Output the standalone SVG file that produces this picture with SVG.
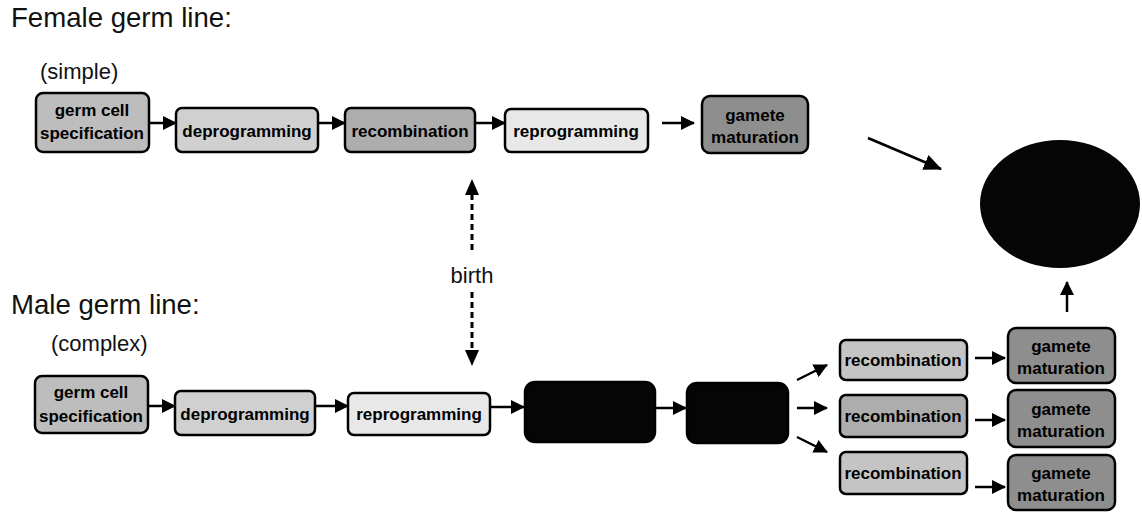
<svg xmlns="http://www.w3.org/2000/svg" width="1142" height="512" viewBox="0 0 1142 512">
  <style>
    .title { font-family: "Liberation Sans", Arial, sans-serif; font-size: 27.6px; fill: #111; }
    .sub { font-family: "Liberation Sans", Arial, sans-serif; font-size: 22px; fill: #111; }
    .lbl { font-family: "Liberation Sans", Arial, sans-serif; font-size: 17px; font-weight: bold; fill: #000; text-anchor: middle; }
    .box { stroke: #000; stroke-width: 2.5; }
    .conn { stroke: #000; stroke-width: 2.5; fill: none; }
    .dash { stroke: #000; stroke-width: 3; fill: none; stroke-dasharray: 6 4; }
    .spec { fill: #bdbdbd; }
    .deprog { fill: #d0d0d0; }
    .recomb { fill: #adadad; }
    .recomb-l { fill: #c4c4c4; }
    .reprog { fill: #e8e8e8; }
    .gamete { fill: #8e8e8e; }
    .dark { fill: #050505; }
  </style>
  <defs>
    <marker id="head" markerUnits="userSpaceOnUse" markerWidth="14" markerHeight="14" refX="13" refY="7" orient="auto">
      <path d="M0,0 L14,7 L0,14 z" fill="#000"/>
    </marker>
    <marker id="head-big" markerUnits="userSpaceOnUse" markerWidth="18" markerHeight="16" refX="17" refY="8" orient="auto">
      <path d="M0,0 L18,8 L0,16 z" fill="#000"/>
    </marker>
  </defs>

  <!-- headings -->
  <text class="title" x="11" y="27">Female germ line:</text>
  <text class="sub" x="40" y="79">(simple)</text>
  <text class="title" x="11" y="314">Male germ line:</text>
  <text class="sub" x="51" y="351">(complex)</text>

  <!-- connectors -->
  <g id="connectors">
    <!-- female row -->
    <line class="conn" x1="149" y1="123" x2="176" y2="123" marker-end="url(#head)"/>
    <line class="conn" x1="318" y1="123" x2="345" y2="123" marker-end="url(#head)"/>
    <line class="conn" x1="475" y1="123" x2="505" y2="123" marker-end="url(#head)"/>
    <line class="conn" x1="662" y1="123" x2="694" y2="123" marker-end="url(#head)"/>
    <line class="conn" x1="868" y1="138" x2="941" y2="169" marker-end="url(#head-big)"/>
    <!-- birth -->
    <line class="dash" x1="472" y1="250" x2="472" y2="192"/>
    <path d="M465,195 L472,179 L479,195 z" fill="#000"/>
    <line class="dash" x1="472" y1="292" x2="472" y2="352"/>
    <path d="M465,350 L472,366 L479,350 z" fill="#000"/>
    <!-- male row -->
    <line class="conn" x1="148" y1="406" x2="175" y2="406" marker-end="url(#head)"/>
    <line class="conn" x1="315" y1="406" x2="348" y2="406" marker-end="url(#head)"/>
    <line class="conn" x1="491" y1="407" x2="524" y2="407" marker-end="url(#head)"/>
    <line class="conn" x1="655" y1="408" x2="686" y2="408" marker-end="url(#head)"/>
    <line class="conn" x1="797" y1="380" x2="827" y2="365" marker-end="url(#head)"/>
    <line class="conn" x1="797" y1="408" x2="827" y2="408" marker-end="url(#head)"/>
    <line class="conn" x1="797" y1="437" x2="827" y2="452" marker-end="url(#head)"/>
    <line class="conn" x1="975" y1="358" x2="1005" y2="358" marker-end="url(#head)"/>
    <line class="conn" x1="975" y1="420" x2="1005" y2="420" marker-end="url(#head)"/>
    <line class="conn" x1="975" y1="487" x2="1005" y2="487" marker-end="url(#head)"/>
    <line class="conn" x1="1067" y1="312" x2="1067" y2="282" marker-end="url(#head)"/>
  </g>

  <!-- female germ line -->
  <g id="f-spec">
    <rect class="box spec" x="36" y="93" width="113" height="59" rx="7"/>
    <text class="lbl" x="92" y="116">germ cell</text>
    <text class="lbl" x="92" y="139">specification</text>
  </g>
  <g id="f-deprog">
    <rect class="box deprog" x="176" y="108" width="142" height="44" rx="6"/>
    <text class="lbl" x="247" y="137">deprogramming</text>
  </g>
  <g id="f-recomb">
    <rect class="box recomb" x="345" y="108" width="130" height="44" rx="6"/>
    <text class="lbl" x="410" y="137">recombination</text>
  </g>
  <g id="f-reprog">
    <rect class="box reprog" x="505" y="109" width="143" height="43" rx="6"/>
    <text class="lbl" x="576" y="137">reprogramming</text>
  </g>
  <g id="f-gamete">
    <rect class="box gamete" x="702" y="96" width="106" height="57" rx="8"/>
    <text class="lbl" x="755" y="121">gamete</text>
    <text class="lbl" x="755" y="143">maturation</text>
  </g>

  <!-- zygote -->
  <g id="zygote">
    <ellipse class="dark" cx="1060" cy="204" rx="80" ry="64"/>
  </g>

  <!-- birth label -->
  <g id="birth">
    <text class="sub" x="472" y="283" text-anchor="middle">birth</text>
  </g>

  <!-- male germ line -->
  <g id="m-spec">
    <rect class="box spec" x="35" y="376" width="113" height="57" rx="7"/>
    <text class="lbl" x="91" y="398">germ cell</text>
    <text class="lbl" x="91" y="422">specification</text>
  </g>
  <g id="m-deprog">
    <rect class="box deprog" x="175" y="391" width="140" height="44" rx="6"/>
    <text class="lbl" x="245" y="420">deprogramming</text>
  </g>
  <g id="m-reprog">
    <rect class="box reprog" x="348" y="393" width="142" height="42" rx="6"/>
    <text class="lbl" x="419" y="420">reprogramming</text>
  </g>
  <g id="m-stage1">
    <rect class="box dark" x="525" y="382" width="130" height="60" rx="10"/>
  </g>
  <g id="m-stage2">
    <rect class="box dark" x="687" y="383" width="101" height="60" rx="10"/>
  </g>
  <g id="m-recomb1">
    <rect class="box recomb-l" x="840" y="340" width="127" height="40" rx="6"/>
    <text class="lbl" x="903" y="366">recombination</text>
  </g>
  <g id="m-recomb2">
    <rect class="box recomb" x="840" y="395" width="127" height="42" rx="6"/>
    <text class="lbl" x="903" y="422">recombination</text>
  </g>
  <g id="m-recomb3">
    <rect class="box recomb-l" x="840" y="452" width="127" height="42" rx="6"/>
    <text class="lbl" x="903" y="479">recombination</text>
  </g>
  <g id="m-gamete1">
    <rect class="box gamete" x="1008" y="328" width="107" height="55" rx="8"/>
    <text class="lbl" x="1061" y="352">gamete</text>
    <text class="lbl" x="1061" y="374">maturation</text>
  </g>
  <g id="m-gamete2">
    <rect class="box gamete" x="1008" y="390" width="107" height="57" rx="8"/>
    <text class="lbl" x="1061" y="415">gamete</text>
    <text class="lbl" x="1061" y="437">maturation</text>
  </g>
  <g id="m-gamete3">
    <rect class="box gamete" x="1008" y="455" width="107" height="55" rx="8"/>
    <text class="lbl" x="1061" y="479">gamete</text>
    <text class="lbl" x="1061" y="501">maturation</text>
  </g>
</svg>
